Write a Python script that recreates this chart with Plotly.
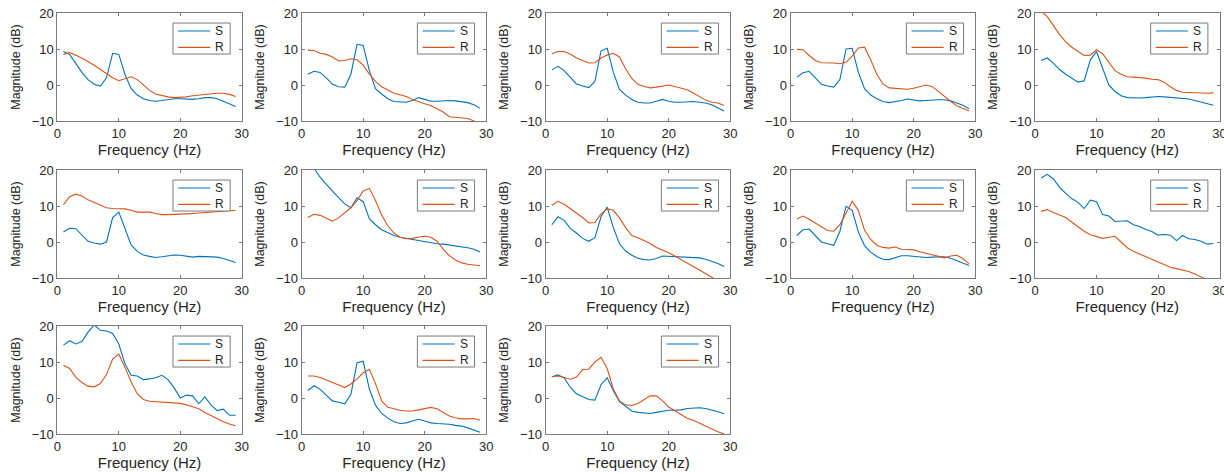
import plotly.graph_objects as go

freq = list(range(1, 30))

S_1 = [9.3, 8.5, 6.0, 3.5, 1.5, 0.2, -0.3, 2.0, 8.8, 8.5, 3.0, -1.0, -2.8, -3.8, -4.3, -4.5, -4.3, -4.0, -3.8, -3.8, -4.0, -4.0, -3.8, -3.5, -3.5, -3.8, -4.5, -5.2, -6.0]
R_1 = [8.5, 9.0, 8.3, 7.5, 6.5, 5.5, 4.3, 3.0, 2.0, 1.2, 1.8, 2.3, 1.5, 0.0, -1.5, -2.5, -3.0, -3.3, -3.5, -3.5, -3.3, -3.0, -2.8, -2.5, -2.4, -2.3, -2.3, -2.6, -3.2]
S_2 = [3.0, 3.8, 3.5, 2.0, 0.2, -0.5, -0.6, 3.0, 11.3, 11.0, 4.0, -1.0, -2.5, -3.8, -4.6, -4.8, -4.8, -4.3, -3.5, -4.0, -4.5, -4.5, -4.3, -4.3, -4.4, -4.6, -4.9, -5.5, -6.5]
R_2 = [9.7, 9.6, 8.8, 8.5, 7.8, 6.7, 6.8, 7.3, 7.0, 5.5, 3.0, 1.0, -0.5, -1.5, -2.3, -2.7, -3.2, -4.0, -4.7, -5.2, -5.7, -6.5, -7.5, -8.8, -9.0, -9.0, -9.3, -10.0, -10.5]
S_3 = [4.2, 5.2, 4.0, 2.0, 0.3, -0.3, -0.7, 1.0, 9.5, 10.2, 3.5, -1.2, -2.8, -4.0, -4.8, -5.0, -5.0, -4.5, -4.0, -4.5, -4.8, -4.8, -4.6, -4.6, -4.8, -5.0, -5.5, -6.3, -7.2]
R_3 = [8.7, 9.3, 9.3, 8.6, 7.5, 6.7, 6.1, 6.2, 7.5, 8.3, 8.8, 7.8, 4.5, 1.8, 0.2, -0.4, -0.8, -0.6, -0.3, 0.0, -0.4, -0.8, -1.3, -2.2, -3.2, -4.2, -4.8, -5.0, -5.7]
S_4 = [2.2, 3.4, 3.8, 2.0, 0.2, -0.3, -0.6, 1.5, 10.0, 10.2, 3.5, -1.0, -2.8, -3.8, -4.6, -4.9, -4.7, -4.3, -3.9, -4.1, -4.4, -4.3, -4.1, -4.1, -4.1, -4.4, -5.0, -5.6, -6.6]
R_4 = [9.9, 9.8, 8.2, 6.8, 6.2, 6.2, 6.1, 5.9, 6.3, 8.0, 10.3, 10.5, 7.0, 3.0, 0.3, -0.8, -1.0, -1.1, -1.2, -0.9, -0.5, 0.0, -0.4, -1.8, -3.3, -4.5, -5.8, -6.6, -7.2]
S_5 = [6.8, 7.5, 6.0, 4.3, 3.0, 1.8, 0.8, 1.2, 7.0, 9.3, 4.5, 0.0, -1.8, -3.0, -3.5, -3.6, -3.6, -3.5, -3.3, -3.2, -3.3, -3.4, -3.5, -3.6, -3.9, -4.3, -4.7, -5.1, -5.6]
R_5 = [20.5, 19.0, 16.5, 14.0, 12.0, 10.5, 9.3, 8.2, 8.3, 9.8, 8.7, 6.5, 4.0, 3.0, 2.3, 2.2, 2.1, 1.9, 1.6, 1.5, 0.8, -0.5, -1.5, -2.0, -2.1, -2.2, -2.3, -2.3, -2.2]
S_6 = [2.8, 3.8, 3.7, 2.0, 0.2, -0.3, -0.6, 0.0, 6.8, 8.3, 3.5, -0.8, -2.6, -3.6, -4.0, -4.3, -4.1, -3.9, -3.6, -3.7, -4.0, -4.2, -4.0, -4.0, -4.0, -4.2, -4.6, -5.1, -5.7]
R_6 = [10.4, 12.6, 13.3, 12.8, 11.7, 10.9, 10.1, 9.5, 9.3, 9.3, 9.2, 8.8, 8.3, 8.3, 8.3, 7.9, 7.6, 7.6, 7.6, 7.7, 7.8, 7.9, 8.0, 8.1, 8.2, 8.3, 8.4, 8.6, 8.8]
S_7 = [23.0, 20.5, 18.0, 16.0, 14.0, 12.3, 10.6, 9.5, 12.3, 11.2, 6.5, 4.8, 3.4, 2.5, 1.8, 1.3, 1.0, 0.7, 0.5, 0.0, -0.2, -0.5, -0.6, -0.8, -1.0, -1.3, -1.6, -2.0, -2.8]
R_7 = [6.8, 7.7, 7.4, 6.5, 5.8, 6.7, 8.2, 9.5, 11.5, 14.2, 14.9, 11.5, 7.5, 4.5, 2.5, 1.3, 0.9, 1.0, 1.4, 1.6, 1.3, 0.2, -2.0, -3.8, -5.0, -5.8, -6.2, -6.5, -6.6]
S_8 = [4.8, 7.0, 6.0, 3.8, 2.5, 1.0, 0.2, 1.2, 7.0, 9.7, 4.0, -0.5, -2.5, -3.7, -4.5, -4.9, -5.0, -4.6, -3.9, -4.0, -4.2, -4.3, -4.3, -4.3, -4.4, -4.8, -5.3, -6.0, -6.8]
R_8 = [10.2, 11.3, 10.5, 9.3, 8.2, 6.8, 5.3, 5.4, 7.8, 9.2, 8.8, 6.7, 4.0, 1.8, 1.2, 0.4, -0.4, -1.5, -2.2, -3.0, -3.9, -4.8, -5.8, -6.8, -7.8, -8.7, -9.8, -10.8, -11.8]
S_9 = [1.8, 3.4, 3.6, 1.8, 0.0, -0.5, -0.9, 3.0, 9.9, 8.8, 2.8, -1.0, -2.8, -4.0, -4.8, -4.9, -4.4, -3.8, -3.8, -4.0, -4.2, -4.3, -4.2, -4.1, -4.1, -4.5, -5.2, -5.8, -6.5]
R_9 = [6.4, 7.2, 6.3, 5.2, 4.2, 3.2, 3.0, 4.8, 8.0, 11.3, 8.8, 3.3, 0.7, -0.9, -1.5, -1.7, -1.4, -2.0, -2.1, -2.2, -2.7, -3.1, -3.5, -3.9, -4.4, -3.9, -3.7, -4.6, -6.1]
S_10 = [17.8, 18.8, 17.5, 15.2, 13.5, 12.0, 11.0, 9.3, 11.6, 11.2, 7.6, 7.2, 5.7, 5.8, 5.9, 4.8, 4.3, 3.5, 2.9, 1.9, 2.1, 1.9, 0.4, 1.8, 0.9, 0.7, 0.2, -0.6, -0.4]
R_10 = [8.5, 9.0, 8.2, 7.4, 6.8, 5.5, 4.2, 3.0, 2.0, 1.4, 1.0, 1.3, 1.6, 0.0, -1.6, -2.6, -3.3, -4.1, -4.8, -5.5, -6.3, -7.0, -7.4, -7.8, -8.2, -8.9, -9.8, -10.5, -11.0]
S_11 = [14.7, 15.9, 15.0, 15.7, 18.3, 20.3, 18.8, 18.6, 17.9, 15.0, 9.5, 6.3, 6.1, 5.1, 5.3, 5.6, 6.3, 5.1, 2.8, 0.0, 0.8, 0.6, -1.6, 0.3, -2.0, -3.5, -3.1, -4.8, -4.8]
R_11 = [9.1, 8.2, 5.8, 4.3, 3.3, 3.1, 4.0, 6.5, 10.8, 12.2, 8.5, 4.5, 1.2, -0.4, -0.9, -1.0, -1.1, -1.2, -1.3, -1.5, -1.9, -2.4, -3.0, -4.0, -4.9, -5.7, -6.6, -7.2, -7.7]
S_12 = [2.1, 3.4, 2.4, 0.8, -0.8, -1.2, -1.6, 1.0, 9.8, 10.2, 2.5, -2.0, -4.3, -5.6, -6.6, -7.1, -6.9, -6.4, -5.9, -6.4, -6.9, -7.1, -7.1, -7.3, -7.6, -7.8, -8.3, -8.8, -9.5]
R_12 = [6.1, 6.1, 5.7, 4.9, 4.3, 3.6, 2.9, 3.9, 5.3, 7.0, 8.0, 4.0, -0.8, -2.6, -3.1, -3.4, -3.6, -3.6, -3.3, -3.0, -2.6, -3.0, -4.0, -5.0, -5.5, -5.8, -5.8, -5.7, -6.2]
S_13 = [5.9, 6.4, 5.6, 3.0, 1.2, 0.3, -0.4, -0.6, 3.7, 5.6, 2.0, -1.0, -2.4, -3.6, -4.0, -4.2, -4.3, -4.0, -3.6, -3.4, -3.4, -3.3, -2.9, -2.7, -2.7, -2.9, -3.3, -3.8, -4.4]
R_13 = [5.9, 6.1, 5.7, 5.2, 5.8, 7.9, 8.0, 10.0, 11.3, 8.2, 2.5, -0.8, -1.9, -2.1, -1.5, -0.5, 0.6, 0.6, -0.8, -2.5, -3.6, -4.5, -5.6, -6.2, -7.0, -7.9, -8.7, -9.4, -10.0]

S_list = [S_1, S_2, S_3, S_4, S_5, S_6, S_7, S_8, S_9, S_10, S_11, S_12, S_13]
R_list = [R_1, R_2, R_3, R_4, R_5, R_6, R_7, R_8, R_9, R_10, R_11, R_12, R_13]

series_names = ["S", "R"]
x_ticks = [0, 10, 20, 30]
y_ticks = [-10, 0, 10, 20]
x_title = "Frequency (Hz)"
y_title = "Magnitude (dB)"

W, H = 1224, 473
col_left = [57.3, 301.7, 545.7, 790.7, 1035.0]
col_w = 184.5
row_top = [13.0, 170.0, 326.0]
row_h = 108.0

C_S = "#0072BD"
C_R = "#D95319"
AX_COL = "#7a7a7a"
TXT_COL = "#262626"
FONT = "Liberation Sans, Arial, Helvetica, sans-serif"

fig = go.Figure()
shapes = []
annotations = []

for k in range(len(S_list)):
    r, c = divmod(k, 5)
    sfx = "" if k == 0 else str(k + 1)
    xa, ya = "x" + sfx, "y" + sfx
    x0 = col_left[c] / W
    x1 = (col_left[c] + col_w) / W
    y1 = 1 - row_top[r] / H
    y0 = 1 - (row_top[r] + row_h) / H
    axis_common = dict(
        showline=True, linecolor=AX_COL, linewidth=1, mirror="ticks",
        ticks="inside", ticklen=3, tickcolor=AX_COL, showgrid=False, zeroline=False,
        automargin=False, ticklabeloverflow="allow",
        tickfont=dict(family=FONT, size=13, color=TXT_COL),
    )
    fig.update_layout({
        "xaxis" + sfx: dict(domain=[x0, x1], anchor=ya, range=[0, 30], tickvals=x_ticks,
                            title=dict(text=x_title, font=dict(family=FONT, size=15, color=TXT_COL), standoff=4),
                            **axis_common),
        "yaxis" + sfx: dict(domain=[y0, y1], anchor=xa, range=[-10, 20], tickvals=y_ticks,
                            title=dict(text=y_title, font=dict(family=FONT, size=12.5, color=TXT_COL), standoff=8),
                            **axis_common),
    })
    for name, vals, col in ((series_names[0], S_list[k], C_S), (series_names[1], R_list[k], C_R)):
        fig.add_trace(go.Scatter(x=freq, y=vals, mode="lines", name=name, xaxis=xa, yaxis=ya,
                                 line=dict(color=col, width=1.1), showlegend=False))
    # legend box drawn in axis-domain coordinates
    xd, yd = xa + " domain", ya + " domain"
    shapes.append(dict(type="rect", xref=xd, yref=yd, x0=0.627, x1=0.937, y0=0.62, y1=0.907,
                       line=dict(color=AX_COL, width=1), fillcolor="white", layer="above"))
    for name, col, yy in ((series_names[0], C_S, 0.833), (series_names[1], C_R, 0.682)):
        shapes.append(dict(type="line", xref=xd, yref=yd, x0=0.655, x1=0.829, y0=yy, y1=yy,
                           line=dict(color=col, width=1.1), layer="above"))
        annotations.append(dict(xref=xd, yref=yd, x=0.845, y=yy, text=name, showarrow=False,
                                xanchor="left", yanchor="middle",
                                font=dict(family=FONT, size=12, color=TXT_COL)))

fig.update_layout(width=W, height=H, margin=dict(l=0, r=0, t=0, b=0, autoexpand=False),
                  paper_bgcolor="white", plot_bgcolor="white",
                  shapes=shapes, annotations=annotations, showlegend=False)
# remove the default 8 px page margin so the figure fills the window exactly
fig.write_html("out.html",
               config={"displayModeBar": False},
               post_script="document.body.style.margin='0';document.body.style.overflow='hidden';")
